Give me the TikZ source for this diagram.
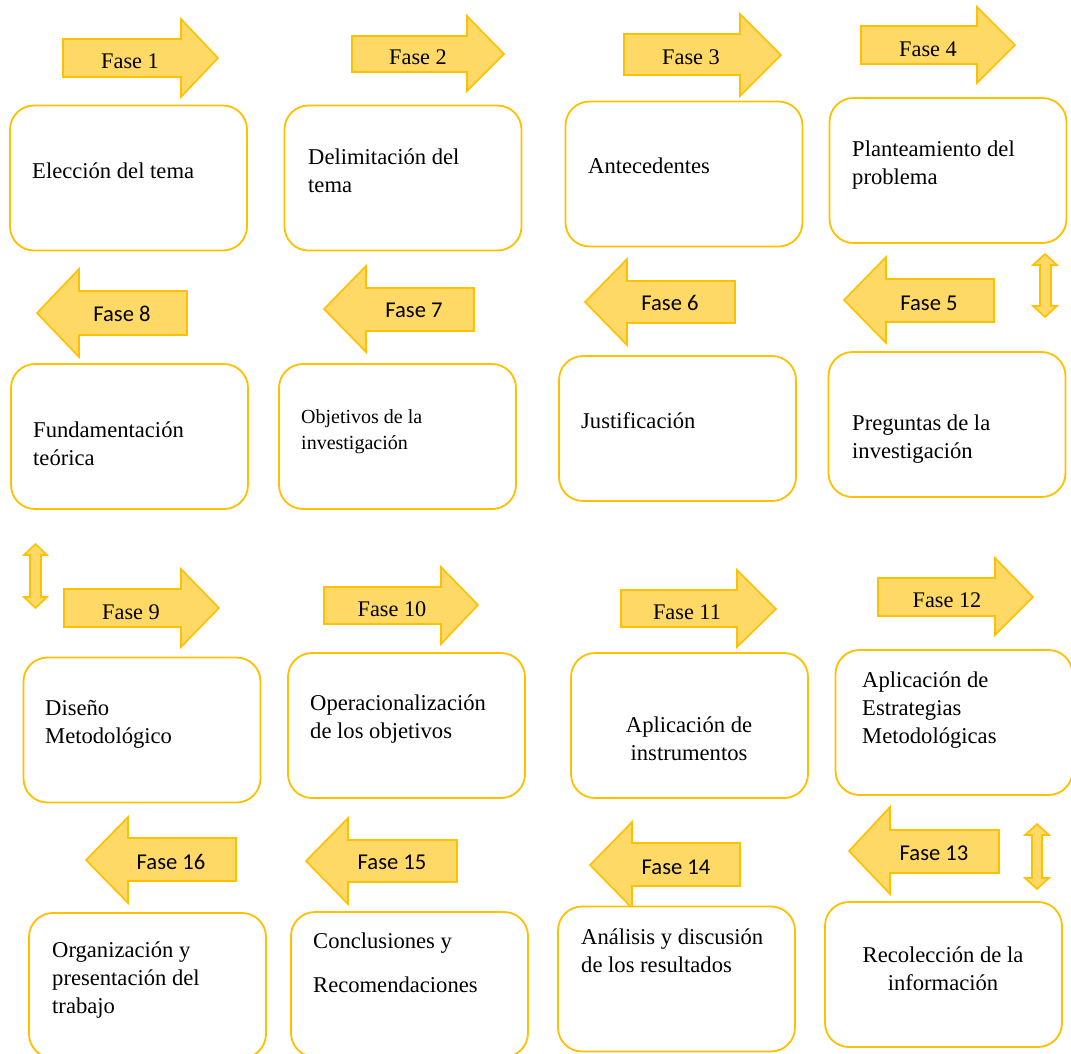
\documentclass[tikz,border=0pt]{standalone}
\usepackage{fontspec}
\setmainfont{Liberation Serif}
\newfontfamily\calfont{Carlito}
\definecolor{gold}{HTML}{FFC000}
\definecolor{goldfill}{HTML}{FFD966}
\begin{document}
\begin{tikzpicture}[x=1pt,y=-1pt,
  box/.style={draw=gold, line width=1.8pt, rounded corners=24pt, fill=white, inner sep=0pt,
              minimum width=237pt, minimum height=145pt},
  arr/.style={draw=gold, fill=goldfill, line width=1.6pt, line join=miter},
  lbl/.style={inner sep=0pt, font=\fontsize{22.3}{26}\selectfont},
  lbls/.style={inner sep=0pt, font=\calfont\fontsize{22.6}{26}\selectfont},
  txt/.style={inner sep=0pt, anchor=base west, align=left, font=\fontsize{22.6}{28}\selectfont},
  txtc/.style={inner sep=0pt, anchor=base, align=center, font=\fontsize{22.6}{28}\selectfont},
]
\useasboundingbox (0,0) rectangle (1071,1053);
\clip (0,0) rectangle (1071,1053);
\fill[white] (0,0) rectangle (1071,1053);

% ---------- Row 1 ----------
\draw[arr] (63,39) -- (181,39) -- (181,19) -- (218,58) -- (181,97) -- (181,77) -- (63,77) -- cycle;
\node[lbl] (f1) at (130,61) {Fase 1};
\draw[arr] (352,36) -- (467,36) -- (467,16) -- (504,54) -- (467,91) -- (467,72) -- (352,72) -- cycle;
\node[lbl] (f2) at (418,57) {Fase 2};
\draw[arr] (624,34) -- (740,34) -- (740,14) -- (781,55) -- (740,96) -- (740,75) -- (624,75) -- cycle;
\node[lbl] (f3) at (691,57) {Fase 3};
\draw[arr] (861,26) -- (977,26) -- (977,7) -- (1015,45) -- (977,83) -- (977,64) -- (861,64) -- cycle;
\node[lbl] (f4) at (928,49) {Fase 4};

\node[box] (b1) at (128.5,178) {};
\node[txt] (t1) at (32,178) {Elección del tema};
\node[box] (b2) at (403,178) {};
\node[txt] (t2) at (308,192) {Delimitación del\\tema};
\node[box] (b3) at (684,174) {};
\node[txt] (t3) at (588,173) {Antecedentes};
\node[box] (b4) at (948,170.5) {};
\node[txt] (t4) at (852,184) {Planteamiento del\\problema};

% ---------- Row 2 ----------
\draw[arr] (187,291) -- (79,291) -- (79,269) -- (37,313) -- (79,357) -- (79,335) -- (187,335) -- cycle;
\node[lbls] (f8) at (122,314) {Fase 8};
\draw[arr] (474,288) -- (366,288) -- (366,266) -- (324,309) -- (366,352) -- (366,331) -- (474,331) -- cycle;
\node[lbls] (f7) at (414,310) {Fase 7};
\draw[arr] (735,281) -- (627,281) -- (627,259) -- (585,302) -- (627,345) -- (627,323) -- (735,323) -- cycle;
\node[lbls] (f6) at (670,303) {Fase 6};
\draw[arr] (994,279) -- (886,279) -- (886,257) -- (844,300) -- (886,343) -- (886,322) -- (994,322) -- cycle;
\node[lbls] (f5) at (929,303) {Fase 5};
\draw[arr] (1045,254) -- (1057,265) -- (1051,265) -- (1051,306) -- (1057,306) -- (1045,317)
  -- (1033,306) -- (1040,306) -- (1040,265) -- (1033,265) -- cycle;

\node[box] (b8) at (129.5,436.5) {};
\node[txt] (t8) at (33,465) {Fundamentación\\teórica};
\node[box] (b7) at (397.5,436.5) {};
\node[txt, font=\fontsize{20}{26}\selectfont] (t7) at (301,449) {Objetivos de la\\investigación};
\node[box] (b6) at (677.5,428.5) {};
\node[txt] (t6) at (581,428) {Justificación};
\node[box] (b5) at (947,424.5) {};
\node[txt] (t5) at (852,458) {Preguntas de la\\investigación};

% ---------- Row 3 ----------
\draw[arr] (35.5,544) -- (47,555) -- (41,555) -- (41,597) -- (47,597) -- (35.5,608)
  -- (24,597) -- (30,597) -- (30,555) -- (24,555) -- cycle;
\draw[arr] (64,589) -- (181,589) -- (181,569) -- (219,608) -- (181,647) -- (181,627) -- (64,627) -- cycle;
\node[lbl] (f9) at (131,612) {Fase 9};
\draw[arr] (324,587) -- (441,587) -- (441,567) -- (478,605) -- (441,644) -- (441,624) -- (324,624) -- cycle;
\node[lbl] (f10) at (392,609) {Fase 10};
\draw[arr] (621,590) -- (737,590) -- (737,570) -- (776,609) -- (737,647) -- (737,627) -- (621,627) -- cycle;
\node[lbl] (f11) at (687,612) {Fase 11};
\draw[arr] (878,578) -- (995,578) -- (995,558) -- (1033,597) -- (995,635) -- (995,616) -- (878,616) -- cycle;
\node[lbl] (f12) at (947,600) {Fase 12};

\node[box] (b9) at (142,730) {};
\node[txt] (t9) at (45,743) {Diseño\\Metodológico};
\node[box] (b10) at (406.5,725.5) {};
\node[txt] (t10) at (310,738) {Operacionalización\\de los objetivos};
\node[box] (b11) at (689.5,725.5) {};
\node[txtc] (t11) at (689,760) {Aplicación de\\instrumentos};
\node[box] (b12) at (954,722.5) {};
\node[txt] (t12) at (862,743) {Aplicación de\\Estrategias\\Metodológicas};

% ---------- Row 4 ----------
\draw[arr] (236,838) -- (128,838) -- (128,817) -- (86,860) -- (128,903) -- (128,881) -- (236,881) -- cycle;
\node[lbls] (f16) at (171,862) {Fase 16};
\draw[arr] (457,840) -- (348,840) -- (348,818) -- (306,861) -- (348,904) -- (348,882) -- (457,882) -- cycle;
\node[lbls] (f15) at (392,862) {Fase 15};
\draw[arr] (740,843) -- (632,843) -- (632,822) -- (590,865) -- (632,908) -- (632,886) -- (740,886) -- cycle;
\node[lbls] (f14) at (676,867) {Fase 14};
\draw[arr] (999,830) -- (890,830) -- (890,807) -- (849,851) -- (890,894) -- (890,873) -- (999,873) -- cycle;
\node[lbls] (f13) at (934,853) {Fase 13};
\draw[arr] (1037,824) -- (1049,835) -- (1042,835) -- (1042,878) -- (1049,878) -- (1037,889)
  -- (1025,878) -- (1032,878) -- (1032,835) -- (1025,835) -- cycle;

\node[box] (b16) at (147.5,985.5) {};
\node[txt] (t16) at (52,1013) {Organización y\\presentación del\\trabajo};
\node[box] (b15) at (409.5,984.5) {};
\node[txt] (t15) at (313,992) {Conclusiones y\\[16pt]Recomendaciones};
\node[box] (b14) at (676.5,979) {};
\node[txt] (t14) at (581,972) {Análisis y discusión\\de los resultados};
\node[box] (b13) at (943.5,974.5) {};
\node[txtc] (t13) at (943,990) {Recolección de la\\información};
\end{tikzpicture}
\end{document}
